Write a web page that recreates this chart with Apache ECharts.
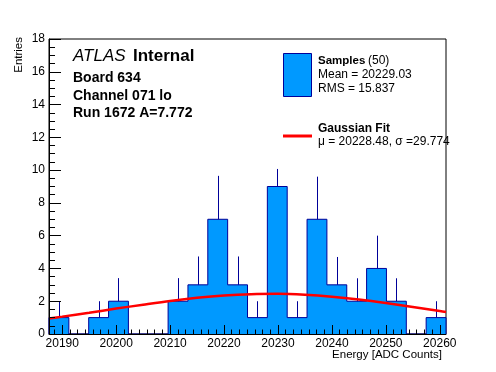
<!DOCTYPE html>
<html>
<head>
<meta charset="utf-8">
<script src="https://cdn.jsdelivr.net/npm/echarts@6/dist/echarts.min.js"></script>
<style>
html,body{margin:0;padding:0;background:#fff;}
#c{width:496px;height:372px;}
</style>
</head>
<body>
<div id="c"></div>
<script>
// ---- data ----
const HIST_MIN = 20187.55;
const HIST_MAX = 20261.15;
const counts = [1,0,1,2,0,0,2,3,7,3,1,9,1,7,3,2,4,2,0,1];
const errTop = [2,null,2,3.41,null,null,3.41,4.73,9.65,4.73,2,10.07,2,9.6,4.7,3.4,6.0,3.4,null,2];
const fitX = [20187.55,20190,20195,20200,20205,20210,20215,20220,20225,20230,20235,20240,20245,20250,20255,20260,20261.15];
const fitY = [0.95,1.06,1.30,1.55,1.79,2.02,2.21,2.35,2.43,2.45,2.39,2.27,2.10,1.89,1.65,1.40,1.34];
const xTickLabels = [20190,20200,20210,20220,20230,20240,20250,20260];
const yTickLabels = [0,2,4,6,8,10,12,14,16,18];

// ---- styles ----
const FONT = '"Liberation Sans", Arial, Helvetica, sans-serif';
const FILL = '#0099ff';
const EDGE = '#000099';

const nb = counts.length;
const bw = (HIST_MAX - HIST_MIN) / nb;
const outline = [[HIST_MIN, 0]];
counts.forEach((c, i) => {
  outline.push([HIST_MIN + i * bw, c]);
  outline.push([HIST_MIN + (i + 1) * bw, c]);
});
outline.push([HIST_MAX, 0]);

const errData = [];
counts.forEach((c, i) => {
  if (errTop[i] != null) errData.push([HIST_MIN + (i + 0.5) * bw, c, errTop[i]]);
});

const fitData = fitX.map((x, i) => [x, fitY[i]]);

// minor x ticks (7 per major division)
const minorX = [];
for (let k = -7; k <= 7 * (xTickLabels.length); k++) {
  const v = xTickLabels[0] + k * 10 / 7;
  if (k % 7 !== 0 && v > HIST_MIN && v < HIST_MAX) minorX.push(v);
}

const chart = echarts.init(document.getElementById('c'), null, {renderer: 'canvas'});
const txt = (text, x, y, size, weight, style, align) => ({
  type: 'text', x: x, y: y, z: 100,
  style: {text: text, fill: '#000', font: (style || 'normal') + ' ' + (weight || 'normal') + ' ' + size + 'px ' + FONT,
          align: align || 'left', verticalAlign: 'middle'}
});

chart.setOption({
  animation: false,
  backgroundColor: '#fff',
  grid: {left: 49, right: 50, top: 39, bottom: 38, show: true, borderColor: '#000', borderWidth: 1, backgroundColor: 'transparent'},
  xAxis: [{
    type: 'value', min: HIST_MIN, max: HIST_MAX, z: 10,
    axisLine: {show: true, onZero: false, lineStyle: {color: '#000', width: 1}},
    axisTick: {show: true, inside: true, length: 9, customValues: xTickLabels, lineStyle: {color: '#000'}},
    axisLabel: {show: true, customValues: xTickLabels, color: '#000', fontFamily: FONT, fontSize: 12, margin: 4,
                formatter: v => String(Math.round(v))},
    splitLine: {show: false}
  }, {
    type: 'value', min: HIST_MIN, max: HIST_MAX, z: 10, position: 'bottom',
    axisLine: {show: false},
    axisTick: {show: true, inside: true, length: 4.5, customValues: minorX, lineStyle: {color: '#000'}},
    axisLabel: {show: false},
    splitLine: {show: false}
  }],
  yAxis: {
    type: 'value', min: 0, max: 18, interval: 2, z: 10,
    axisLine: {show: true, lineStyle: {color: '#000', width: 1}},
    axisTick: {show: true, inside: true, length: 12, lineStyle: {color: '#000'}},
    minorTick: {show: true, splitNumber: 4, length: 6, lineStyle: {color: '#000'}},
    axisLabel: {color: '#000', fontFamily: FONT, fontSize: 12, margin: 4,
                formatter: v => yTickLabels.indexOf(v) >= 0 ? String(v) : ''},
    splitLine: {show: false}
  },
  series: [{
    type: 'line', data: outline, symbol: 'none', z: 2,
    lineStyle: {color: EDGE, width: 1},
    areaStyle: {color: FILL, opacity: 1},
    silent: true
  }, {
    type: 'custom', z: 3, data: errData,
    renderItem: (params, api) => {
      const p1 = api.coord([api.value(0), api.value(1)]);
      const p2 = api.coord([api.value(0), api.value(2)]);
      const x = Math.round(p1[0]) + 0.5;
      return {type: 'line', shape: {x1: x, y1: p1[1], x2: x, y2: p2[1]}, style: {stroke: EDGE, lineWidth: 1}};
    }
  }, {
    type: 'line', data: fitData, symbol: 'none', z: 4, smooth: 0.3,
    lineStyle: {color: '#ff0000', width: 2.5}
  }],
  graphic: [
    {type: 'text', x: 19, y: 37, rotation: Math.PI / 2, z: 100,
     style: {text: 'Entries', fill: '#000', font: 'normal 11.5px ' + FONT, align: 'right', verticalAlign: 'middle'}},
    txt('Energy [ADC Counts]', 442, 355, 11.5, 'normal', 'normal', 'right'),
    txt('ATLAS', 73, 56.7, 17, 'normal', 'italic'),
    txt('Internal', 133, 56.7, 17, 'bold'),
    txt('Board 634', 73, 78.4, 14, 'bold'),
    txt('Channel 071 lo', 73, 95.8, 14, 'bold'),
    txt('Run 1672 A=7.772', 73, 113.4, 14, 'bold'),
    {type: 'rect', z: 100, shape: {x: 283.5, y: 53.5, width: 28, height: 43}, style: {fill: FILL, stroke: EDGE, lineWidth: 1}},
    txt('Samples', 318, 60.8, 11.5, 'bold'),
    txt('(50)', 368, 60.8, 12),
    txt('Mean = 20229.03', 318, 75.1, 12),
    txt('RMS = 15.837', 318, 89.1, 12),
    {type: 'line', z: 100, shape: {x1: 283, y1: 136, x2: 312, y2: 136}, style: {stroke: '#ff0000', lineWidth: 3}},
    txt('Gaussian Fit', 318, 128.5, 12, 'bold'),
    txt('\u03bc = 20228.48, \u03c3 =29.774', 318, 141.8, 12)
  ]
});
</script>
</body>
</html>
